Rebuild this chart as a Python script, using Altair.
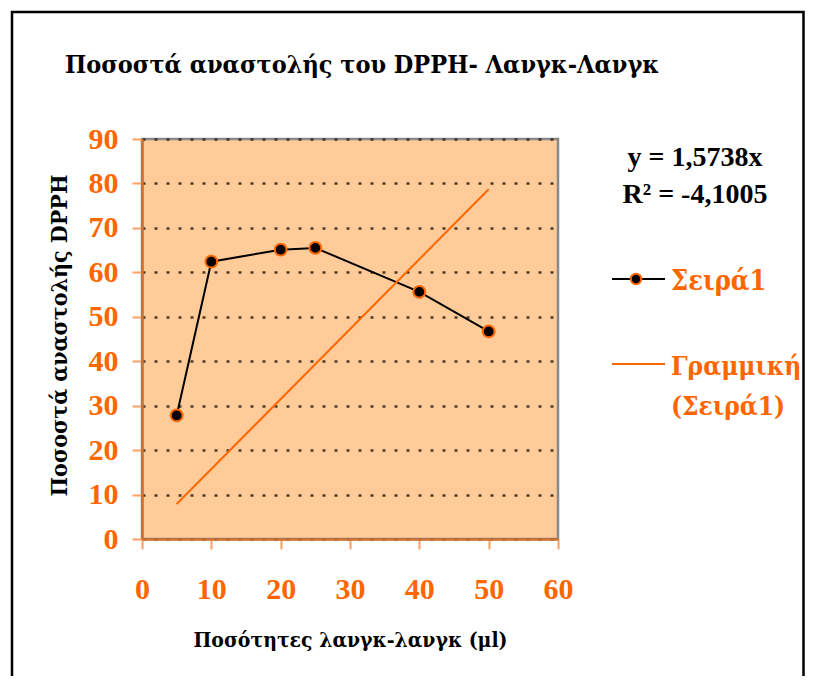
import altair as alt
import pandas as pd

# data
amounts = [5, 10, 20, 25, 40, 50]
inhibition = [27.8, 62.4, 65.1, 65.5, 55.6, 46.7]
slope = 1.5738
trend_x = [5, 50]
trend_y = [slope * v for v in trend_x]

x_ticks = [0, 10, 20, 30, 40, 50, 60]
y_ticks = [0, 10, 20, 30, 40, 50, 60, 70, 80, 90]

title_text = "Ποσοστά αναστολής του DPPH- Λανγκ-Λανγκ"
x_title = "Ποσότητες λανγκ-λανγκ (μl)"
y_title = "Ποσοστά αναστολής DPPH"
eq_lines = ["y = 1,5738x", "R² = -4,1005"]
series_name = "Σειρά1"
trend_name = ["Γραμμική", "(Σειρά1)"]

FONT = "Liberation Serif"
GFONT = "DejaVu Serif Condensed, DejaVu Serif"
ORANGE = "#FF6600"

df = pd.DataFrame({"x": amounts, "y": inhibition})
tdf = pd.DataFrame({"x": trend_x, "y": trend_y})

W, H = 416, 400
TOTAL_W, TOTAL_H = 797, 668

xs = alt.Scale(domain=[0, 60], nice=False)
ys = alt.Scale(domain=[0, 90], nice=False)

xax = alt.Axis(values=x_ticks, title=x_title, grid=False, tickSize=10,
               labelPadding=25, titleY=90, titleX=W / 2, titleFontSize=21)
yax = alt.Axis(values=y_ticks, title=y_title, grid=True, tickSize=10,
               labelPadding=14, titleX=-71, titleY=196, titleFontSize=23,
               gridColor="#3a2a1a", gridDash=[3, 9], gridWidth=2.5, gridOpacity=0.9)

base = alt.Chart(df)

series_line = base.mark_line(color="black", strokeWidth=2).encode(
    x=alt.X("x:Q", scale=xs, axis=xax),
    y=alt.Y("y:Q", scale=ys, axis=yax),
)
series_pts = base.mark_point(filled=True, fill="black", stroke=ORANGE, strokeWidth=2,
                             size=140, opacity=1).encode(
    x=alt.X("x:Q", scale=xs), y=alt.Y("y:Q", scale=ys))

trend = alt.Chart(tdf).mark_line(color=ORANGE, strokeWidth=2).encode(
    x=alt.X("x:Q", scale=xs), y=alt.Y("y:Q", scale=ys))

# frame around the whole chart
one = pd.DataFrame({"a": [0]})
frame = alt.Chart(one).mark_rect(fill=None, stroke="black", strokeWidth=2.5, clip=False).encode(
    x=alt.value(12 - 142), x2=alt.value(803.5 - 142),
    y=alt.value(12 - 139), y2=alt.value(700 - 139))

def txt(text, px, py, size, color="black", align="left", font=GFONT):
    return alt.Chart(pd.DataFrame({"t": [text]})).mark_text(
        font=font, fontWeight="bold", fontSize=size, color=color, align=align,
        baseline="alphabetic", clip=False).encode(
        text="t:N", x=alt.value(px - 142), y=alt.value(py - 139))

title = txt(title_text, 65, 73, 25)
eq1 = txt(eq_lines[0], 695, 166, 28, align="center", font=FONT)
eq2 = txt(eq_lines[1], 695, 203, 28, align="center", font=FONT)
leg1 = txt(series_name, 671, 290, 27, ORANGE)
leg2a = txt(trend_name[0], 671, 375, 26, ORANGE)
leg2b = txt(trend_name[1], 671, 415, 26, ORANGE)

leg_line1 = alt.Chart(one).mark_rule(color="black", strokeWidth=2, clip=False).encode(
    x=alt.value(612 - 142), x2=alt.value(665 - 142), y=alt.value(279 - 139))
leg_pt1 = alt.Chart(one).mark_point(
    filled=True, fill="black", stroke=ORANGE, strokeWidth=2, size=110, opacity=1, clip=False).encode(
    x=alt.value(636 - 142), y=alt.value(279 - 139))
leg_line2 = alt.Chart(one).mark_rule(color=ORANGE, strokeWidth=2, clip=False).encode(
    x=alt.value(612 - 142), x2=alt.value(665 - 142), y=alt.value(364 - 139))

chart = alt.layer(
    frame, series_line, trend, series_pts, title, eq1, eq2,
    leg_line1, leg_pt1, leg1, leg_line2, leg2a, leg2b
).properties(
    width=W, height=H,
    autosize=alt.AutoSizeParams(type="none"),
    padding={"left": 134, "top": 131, "right": TOTAL_W - 134 - W, "bottom": TOTAL_H - 131 - H},
    background="white",
).configure_view(
    fill="#FFCC99", stroke="#888888", strokeWidth=2.5
).configure_axis(
    labelFont=FONT, labelFontWeight="bold", labelFontSize=30, labelColor=ORANGE,
    titleFont=GFONT, titleFontWeight="bold", titleColor="black",
    tickColor="#FFA060", tickWidth=2, domainColor="#CC7033", domainWidth=2.5,
    labelFlush=False, labelOverlap=False
)

chart.save("out.html", embed_options={"renderer": "svg", "actions": False})
